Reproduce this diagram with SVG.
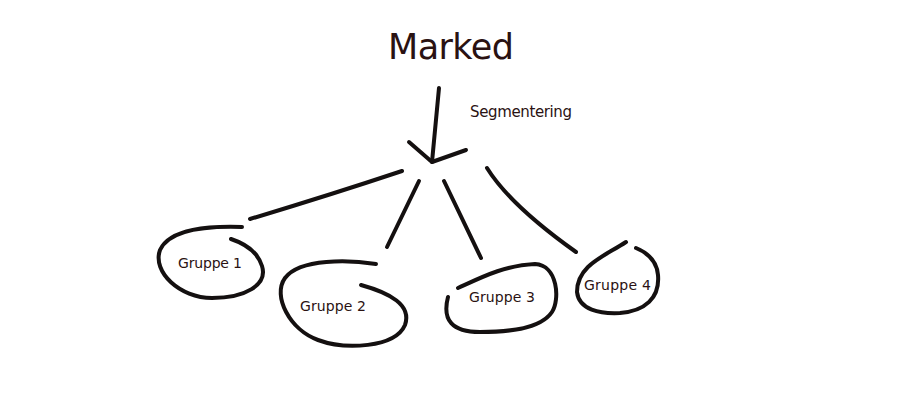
<svg xmlns="http://www.w3.org/2000/svg" width="900" height="401" viewBox="0 0 900 401">
<style>
.s{fill:none;stroke:#141010;stroke-width:4;stroke-linecap:round;stroke-linejoin:round}
.t{font-family:"Comic Sans MS","DejaVu Sans",sans-serif;fill:#2a1212}
.g{font-size:14px}
</style>
<rect width="900" height="401" fill="#fff"/>
<g id="marked"><text class="t" x="388" y="59" font-size="35" textLength="126">Marked</text></g>
<g id="segmentering-label"><text class="t" x="470" y="117" font-size="15" textLength="102">Segmentering</text></g>
<g id="connectors">
<path class="s" d="M439 88 L432 162"/>
<path class="s" d="M409 142 L432 162 L466 150"/>
<path class="s" d="M250 219 Q330 195 402 171"/>
<path class="s" d="M419 181 L387 247"/>
<path class="s" d="M444 181 L481 258"/>
<path class="s" d="M487 168 Q510 205 576 252"/>
</g>
<g id="gruppe1">
<path class="s" d="M242 227 C210 226 170 228 160 250 C152 272 180 298 212 298 C245 298 268 285 262 266 C258 253 246 244 231 239"/>
<text class="t g" x="178" y="268" textLength="64">Gruppe 1</text>
</g>
<g id="gruppe2">
<path class="s" d="M376 264 C350 260 300 258 285 278 C272 296 290 330 318 340 C345 350 395 348 405 325 C412 305 390 293 361 285"/>
<text class="t g" x="300" y="311" textLength="66">Gruppe 2</text>
</g>
<g id="gruppe3">
<path class="s" d="M458 288 C480 278 505 265 535 264 C558 265 560 300 552 312 C540 330 505 332 480 332 C452 332 442 320 448 297"/>
<text class="t g" x="469" y="302" textLength="66">Gruppe 3</text>
</g>
<g id="gruppe4">
<path class="s" d="M626 242 C605 256 577 265 577 292 C579 310 600 314 620 313 C645 311 660 298 658 275 C657 262 648 253 636 248"/>
<text class="t g" x="584" y="290" textLength="67">Gruppe 4</text>
</g>
</svg>
